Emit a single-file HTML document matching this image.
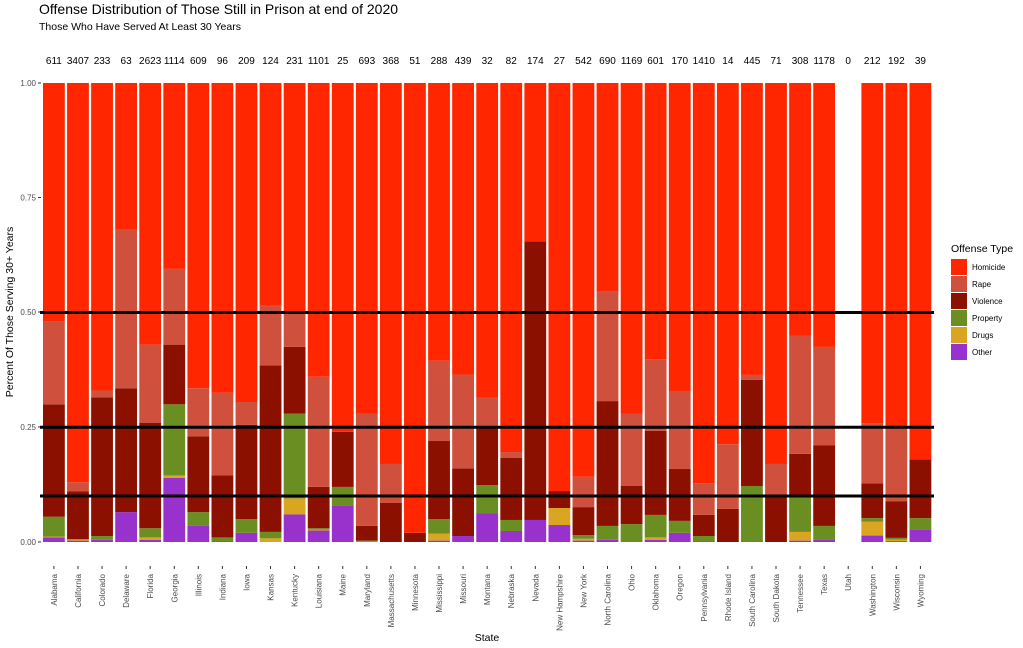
<!DOCTYPE html>
<html><head><meta charset="utf-8">
<style>
html,body{margin:0;padding:0;background:#fff;}
svg{display:block;font-family:"Liberation Sans",Arial,sans-serif;}
</style></head>
<body>
<svg id="c" width="1023" height="648" viewBox="0 0 1023 648" xmlns="http://www.w3.org/2000/svg">
<text x="39" y="14" font-size="14" fill="#000">Offense Distribution of Those Still in Prison at end of 2020</text>
<text x="39" y="30" font-size="10.5" fill="#000">Those Who Have Served At Least 30 Years</text>
<g font-size="8" fill="#4d4d4d" text-anchor="end">
<text x="36" y="86">1.00</text><text x="36" y="200.5">0.75</text><text x="36" y="315">0.50</text><text x="36" y="430">0.25</text><text x="36" y="545">0.00</text>
</g>
<g stroke="#333" stroke-width="1"><line x1="38" x2="41" y1="83" y2="83"/><line x1="38" x2="41" y1="197.5" y2="197.5"/><line x1="38" x2="41" y1="312" y2="312"/><line x1="38" x2="41" y1="427" y2="427"/><line x1="38" x2="41" y1="542" y2="542"/></g>
<text transform="translate(13,312) rotate(-90)" font-size="10.5" text-anchor="middle">Percent Of Those Serving 30+ Years</text>
<text x="487" y="641" font-size="10.5" text-anchor="middle">State</text>
<g id="bars"></g>
<g stroke="#000" stroke-width="3"><line x1="40" x2="934" y1="312.5" y2="312.5"/><line x1="40" x2="934" y1="427.2" y2="427.2"/><line x1="40" x2="934" y1="496" y2="496"/></g>
<text x="951" y="252" font-size="10.5">Offense Type</text>
<g font-size="8">
<rect x="951" y="259" width="16" height="16" fill="#ff2600"/><text x="972" y="270">Homicide</text>
<rect x="951" y="276" width="16" height="16" fill="#cf513d"/><text x="972" y="287">Rape</text>
<rect x="951" y="293" width="16" height="16" fill="#8b1000"/><text x="972" y="304">Violence</text>
<rect x="951" y="310" width="16" height="16" fill="#6b8e23"/><text x="972" y="321">Property</text>
<rect x="951" y="327" width="16" height="16" fill="#daa520"/><text x="972" y="338">Drugs</text>
<rect x="951" y="344" width="16" height="16" fill="#9932cc"/><text x="972" y="355">Other</text>
</g>
</svg>
<script>
// name,count,[other,drugs,property,violence,rape] cumulative tops
var D=[
["Alabama","611",[.01,.012,.055,.30,.48]],
["California","3407",[.003,.005,.006,.11,.13]],
["Colorado","233",[.005,.005,.013,.315,.33]],
["Delaware","63",[.065,.065,.065,.335,.68]],
["Florida","2623",[.005,.01,.03,.26,.43]],
["Georgia","1114",[.14,.145,.30,.43,.595]],
["Illinois","609",[.035,.035,.065,.23,.335]],
["Indiana","96",[.002,.002,.01,.145,.325]],
["Iowa","209",[.02,.02,.05,.255,.305]],
["Kansas","124",[0,.008,.022,.385,.515]],
["Kentucky","231",[.06,.095,.28,.425,.50]],
["Louisiana","1101",[.025,.027,.03,.12,.36]],
["Maine","25",[.08,.08,.12,.24,.24]],
["Maryland","693",[.001,.002,.003,.035,.28]],
["Massachusetts","368",[0,0,0,.085,.17]],
["Minnesota","51",[0,0,0,.02,.02]],
["Mississippi","288",[.003,.018,.05,.22,.395]],
["Missouri","439",[.013,.013,.013,.16,.365]],
["Montana","32",[.063,.063,.124,.25,.314]],
["Nebraska","82",[.024,.024,.048,.183,.196]],
["Nevada","174",[.048,.048,.048,.655,.655]],
["New Hampshire","27",[.037,.074,.074,.111,.111]],
["New York","542",[.003,.007,.015,.076,.142]],
["North Carolina","690",[.005,.005,.035,.307,.545]],
["Ohio","1169",[0,0,.039,.122,.28]],
["Oklahoma","601",[.005,.01,.059,.242,.398]],
["Oregon","170",[.02,.02,.046,.159,.329]],
["Pennsylvania","1410",[.002,.002,.013,.059,.128]],
["Rhode Island","14",[0,0,0,.072,.213]],
["South Carolina","445",[.001,.001,.122,.353,.364]],
["South Dakota","71",[0,0,0,.098,.17]],
["Tennessee","308",[.003,.022,.098,.192,.449]],
["Texas","1178",[.006,.006,.035,.211,.425]],
["Utah","0",null],
["Washington","212",[.014,.044,.052,.128,.259]],
["Wisconsin","192",[.002,.005,.009,.089,.248]],
["Wyoming","39",[.027,.027,.052,.18,.18]]
];
var C=["#9932cc","#daa520","#6b8e23","#8b1000","#cf513d","#ff2600"];
var ns="http://www.w3.org/2000/svg",g=document.getElementById("bars");
function y(v){return 542-459*v;}
function el(t,a,txt){var e=document.createElementNS(ns,t);for(var k in a)e.setAttribute(k,a[k]);if(txt!=null)e.textContent=txt;g.appendChild(e);return e;}
D.forEach(function(d,i){
 var x=43+24.07*i,w=21.8,cx=x+w/2;
 el("text",{x:cx,y:64,"font-size":"10","text-anchor":"middle",fill:"#000"},d[1]);
 el("line",{x1:cx,x2:cx,y1:566,y2:569,stroke:"#333","stroke-width":1});
 el("text",{transform:"translate("+(cx+3)+",574) rotate(-90)","font-size":"8","text-anchor":"end",fill:"#4d4d4d"},d[0]);
 if(!d[2])return;
 var tops=d[2].concat([1]),prev=0;
 for(var j=0;j<6;j++){var t=tops[j];if(t>prev){el("rect",{x:x,y:y(t),width:w,height:y(prev)-y(t),fill:C[j]});}prev=Math.max(prev,t);}
});
</script>
</body></html>
